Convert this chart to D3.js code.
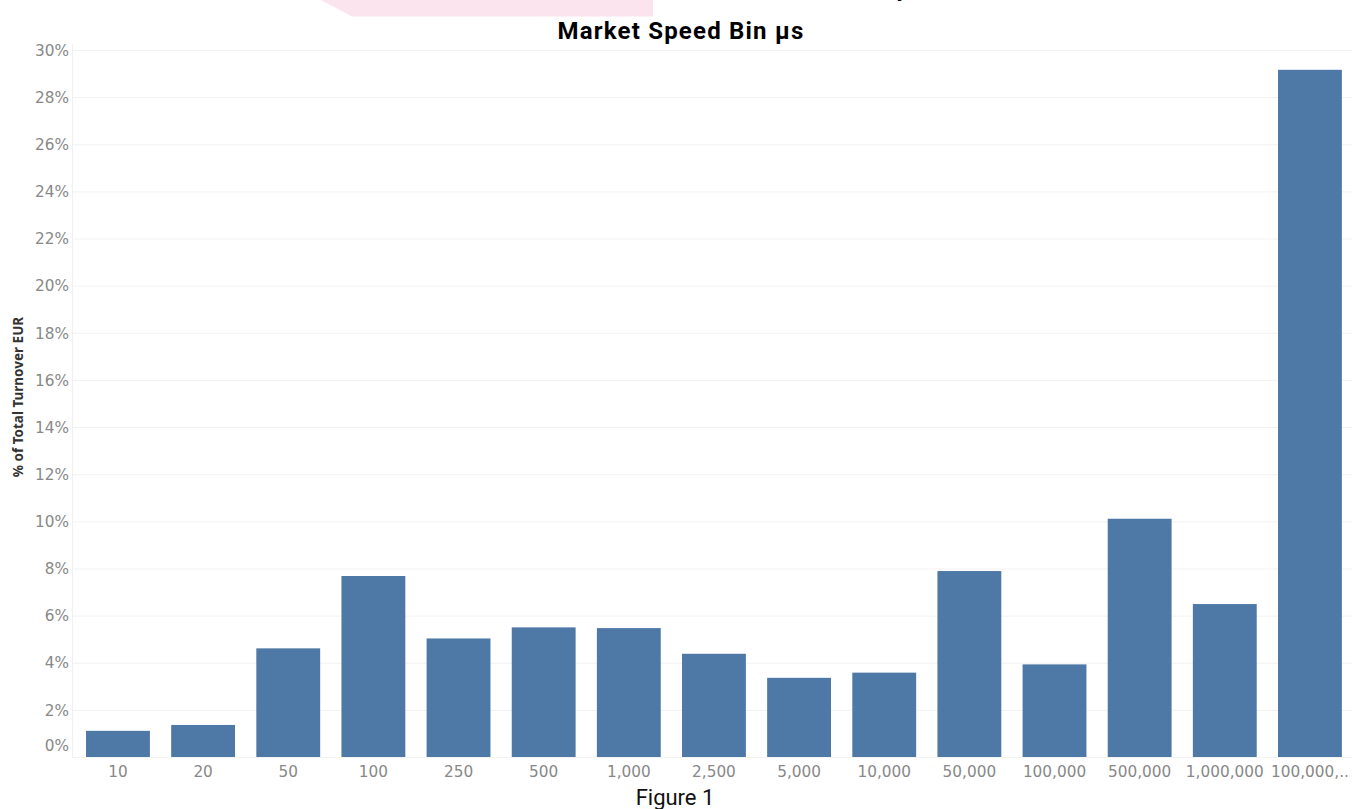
<!DOCTYPE html>
<html>
<head>
<meta charset="utf-8">
<script src="https://cdn.jsdelivr.net/npm/d3@7"></script>
<style>
  html, body { margin: 0; padding: 0; background: #fff; }
  svg { display: block; }
</style>
</head>
<body>
<svg id="chart" width="1362" height="809"></svg>
<script>
// Speed bins (µs) and share of total turnover (%)
const categories = ["10", "20", "50", "100", "250", "500", "1,000", "2,500", "5,000",
  "10,000", "50,000", "100,000", "500,000", "1,000,000", "100,000,.."];
const shares = [1.11, 1.36, 4.61, 7.68, 5.03, 5.50, 5.47, 4.38, 3.36,
  3.58, 7.89, 3.93, 10.11, 6.49, 29.16];
const yTicks = [0, 2, 4, 6, 8, 10, 12, 14, 16, 18, 20, 22, 24, 26, 28, 30];

const svg = d3.select("#chart");
const plot = { left: 72, right: 1352.5, top: 50, bottom: 757 };
const labelFont = "'DejaVu Sans', sans-serif";

const x = d3.scaleBand()
  .domain(categories)
  .range([75.4, 1352.5])
  .paddingInner(0.25)
  .paddingOuter(0.125);

const y = d3.scaleLinear()
  .domain([0, 30])
  .range([plot.bottom, plot.top]);

// decorative banner strip and clipped heading above the chart
svg.append("polygon")
  .attr("points", "321,0 653,0 653,16.5 352,16.5")
  .attr("fill", "#fce4ef");
svg.append("text")
  .attr("x", 902).attr("y", -4)
  .attr("font-family", "Roboto, sans-serif")
  .attr("font-weight", 700)
  .attr("font-size", 22)
  .attr("fill", "#000")
  .attr("text-anchor", "middle")
  .text("y");

// gridlines
svg.append("g")
  .selectAll("line")
  .data(yTicks)
  .join("line")
  .attr("x1", plot.left).attr("x2", plot.right)
  .attr("y1", d => y(d) + 0.5).attr("y2", d => y(d) + 0.5)
  .attr("stroke", "#f2f2f2")
  .attr("stroke-width", 1);

// faint y axis rule
svg.append("line")
  .attr("x1", plot.left + 0.5).attr("x2", plot.left + 0.5)
  .attr("y1", plot.top - 6).attr("y2", plot.bottom)
  .attr("stroke", "#f0f0f0");

// y axis labels
const yAxis = d3.axisLeft(y)
  .tickValues(yTicks)
  .tickFormat(d => d + "%")
  .tickSize(0)
  .tickPadding(0);
const yg = svg.append("g")
  .attr("transform", `translate(${plot.left - 3},0)`)
  .call(yAxis);
yg.select(".domain").remove();
yg.selectAll("text")
  .attr("font-family", labelFont)
  .attr("font-size", 15.3)
  .attr("fill", "#888")
  .attr("dy", d => d === 0 ? "-0.45em" : "0.34em");

// bars
svg.append("g")
  .selectAll("rect")
  .data(shares)
  .join("rect")
  .attr("x", (d, i) => x(categories[i]))
  .attr("width", x.bandwidth())
  .attr("y", d => y(d))
  .attr("height", d => plot.bottom - y(d))
  .attr("fill", "#4e78a6");

// x axis labels
const xAxis = d3.axisBottom(x).tickSize(0).tickPadding(0);
const xg = svg.append("g")
  .attr("transform", `translate(0,${plot.bottom + 9})`)
  .call(xAxis);
xg.select(".domain").remove();
xg.selectAll("text")
  .attr("font-family", labelFont)
  .attr("font-size", 15.3)
  .attr("fill", "#888")
  .attr("dy", "0.71em");

// titles
svg.append("text")
  .attr("x", 681).attr("y", 39)
  .attr("text-anchor", "middle")
  .attr("font-family", "Roboto, sans-serif")
  .attr("font-weight", 700)
  .attr("font-size", 24)
  .attr("letter-spacing", 1.2)
  .attr("fill", "#000")
  .text("Market Speed Bin µs");

svg.append("text")
  .attr("transform", "translate(23,397) rotate(-90)")
  .attr("text-anchor", "middle")
  .attr("font-family", "'Noto Sans', sans-serif")
  .attr("font-weight", 700)
  .attr("font-size", 13.5)
  .attr("fill", "#333")
  .text("% of Total Turnover EUR");

svg.append("text")
  .attr("x", 675).attr("y", 805)
  .attr("text-anchor", "middle")
  .attr("font-family", "Roboto, sans-serif")
  .attr("font-size", 22)
  .attr("fill", "#111")
  .text("Figure 1");
</script>
</body>
</html>
